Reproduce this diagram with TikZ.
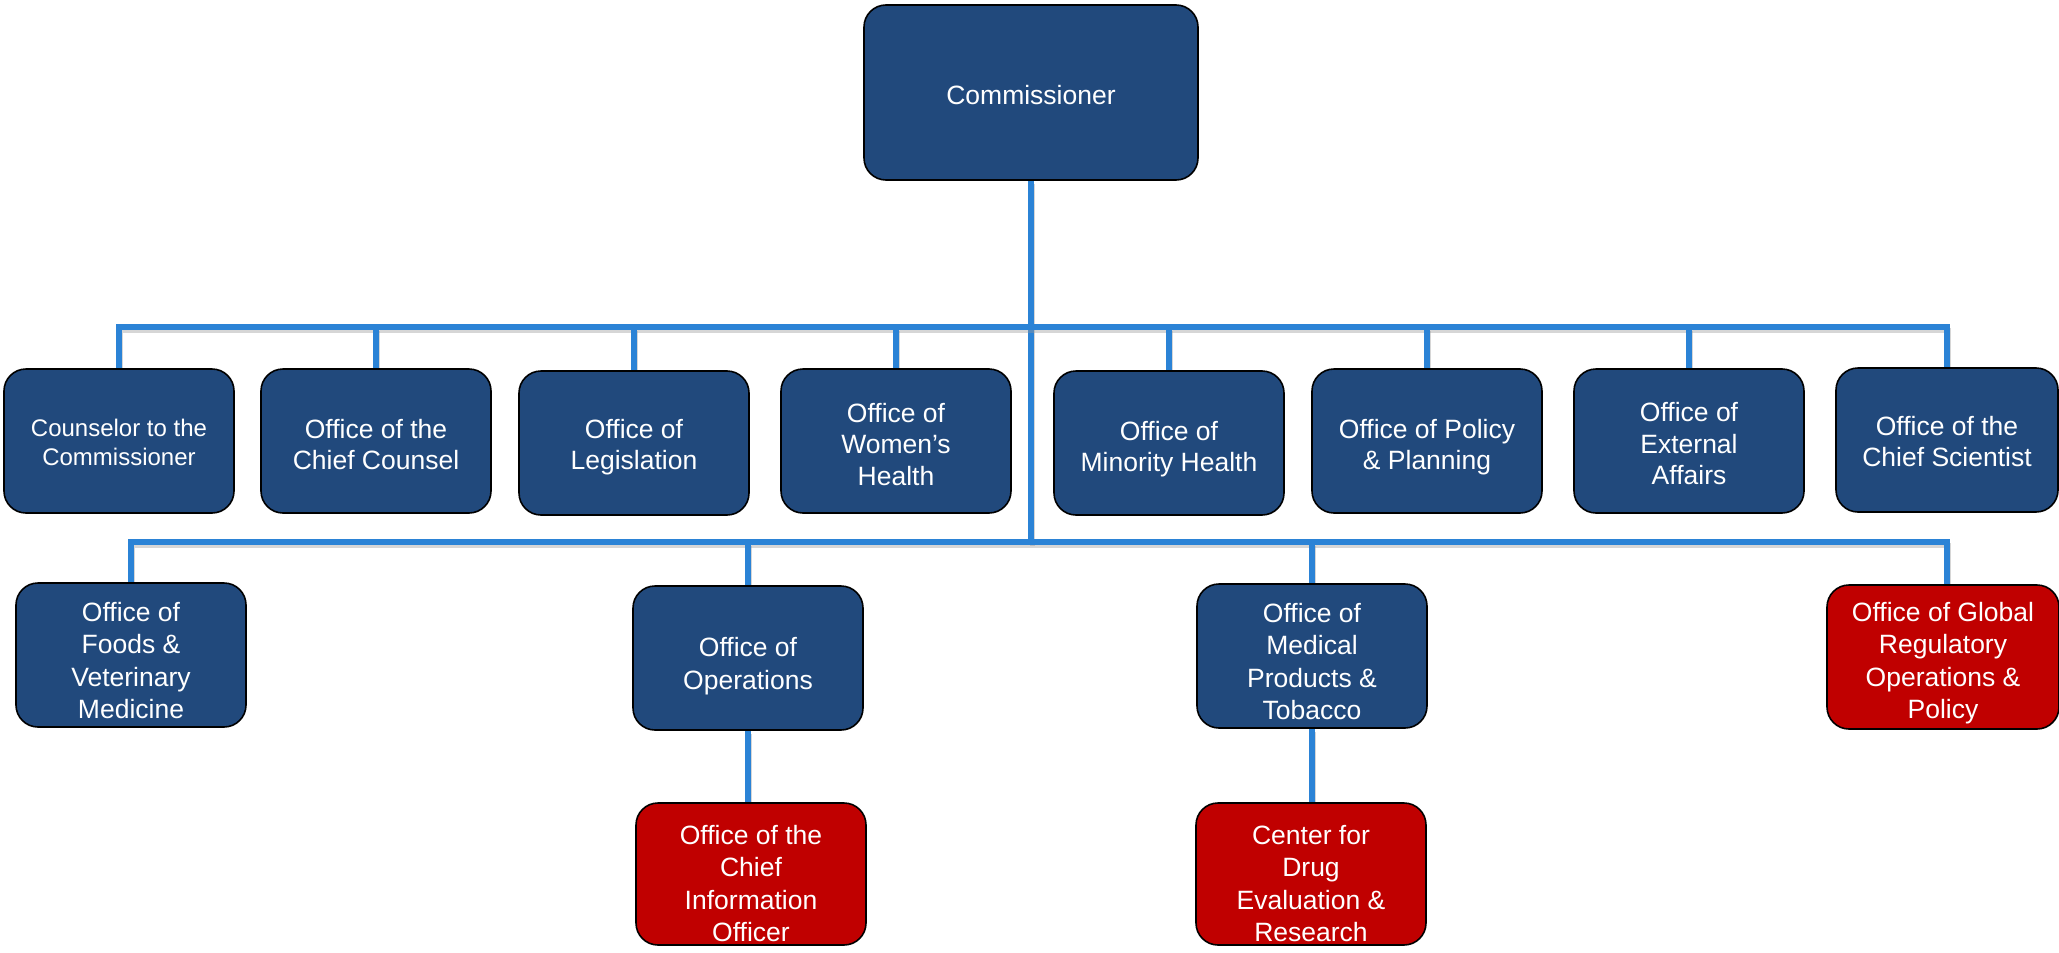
\documentclass[tikz,border=0pt]{standalone}
\usepackage{fontspec}
\setmainfont{Liberation Sans}
\usetikzlibrary{backgrounds}
\definecolor{boxblue}{RGB}{33,73,124}
\definecolor{boxred}{RGB}{192,0,0}
\definecolor{linkblue}{RGB}{43,131,214}
\newcommand{\tg}[1]{\rule{0pt}{#1pt}}
\tikzset{
  orgbox/.style={draw=black, line width=1.6pt, rounded corners=22pt, fill=boxblue,
    text=white, align=center, inner sep=0pt, minimum width=230pt, minimum height=144pt,
    font=\fontsize{26.5}{32.5}\selectfont},
  rowone/.style={orgbox, font=\fontsize{26.5}{31.5}\selectfont},
  redbox/.style={orgbox, fill=boxred},
  conn/.style={draw=linkblue, line width=5.2pt,
    preaction={draw=black!40, line width=5.4pt, opacity=.4, transform canvas={shift={(1.5pt,-3.5pt)}}}}
}
\begin{document}
\begin{tikzpicture}[x=1pt,y=-1pt]
\useasboundingbox (0,0) rectangle (2059,953);
% top
\node[orgbox, minimum width=334pt, minimum height=175pt] (comm) at (1031,92.5) {\tg{25}Commissioner};
% row 1
\node[orgbox, font=\fontsize{24}{29}\selectfont] (c1) at (119,441) {\tg{20}Counselor to the\\Commissioner};
\node[rowone] (c2) at (376,441) {\tg{26}Office of the\\Chief Counsel};
\node[rowone] (c3) at (634,443) {\tg{27.5}Office of\\Legislation};
\node[rowone] (c4) at (896,441) {\tg{26}Office of\\Women’s\\Health};
\node[rowone] (c5) at (1169,443) {\tg{31.5}Office of\\Minority Health};
\node[rowone] (c6) at (1427,441) {\tg{31}Office of Policy\\\& Planning};
\node[rowone] (c7) at (1689,441) {\tg{25}Office of\\External\\Affairs};
\node[rowone, minimum width=222pt] (c8) at (1947,440) {\tg{22}Office of the\\Chief Scientist};
% row 2
\node[orgbox] (r1) at (131,655) {\tg{30}Office of\\Foods \&\\Veterinary\\Medicine};
\node[orgbox] (r2) at (748,658) {\tg{35}Office of\\Operations};
\node[orgbox] (r3) at (1312,656) {\tg{30}Office of\\Medical\\Products \&\\Tobacco};
\node[redbox, minimum width=232pt] (r4) at (1943,657) {\tg{31}Office of Global\\Regulatory\\Operations \&\\Policy};
% row 3
\node[redbox, minimum height=142pt] (cio) at (751,874) {\tg{38}Office of the\\Chief\\Information\\Officer};
\node[redbox, minimum height=142pt] (cder) at (1311,874) {\tg{38}Center for\\Drug\\Evaluation \&\\Research};
% bus coordinates
\coordinate (b1) at (1031,327);
\coordinate (b2) at (1031,542);
\begin{scope}[on background layer]
  \draw[conn] (comm.south) -- (comm.south |- b2);
  \draw[conn] (c1.north) -- (c1.north |- b1) -- (c8.north |- b1) -- (c8.north);
  \foreach \n in {c2,c3,c4,c5,c6,c7}
    \draw[conn] (\n.north) -- (\n.north |- b1);
  \draw[conn] (r1.north) -- (r1.north |- b2) -- ([xshift=4pt]r4.north |- b2) -- ([xshift=4pt]r4.north);
  \draw[conn] (r2.north) -- (r2.north |- b2);
  \draw[conn] (r3.north) -- (r3.north |- b2);
  \draw[conn] (r2.south) -- (cio.north -| r2.south);
  \draw[conn] (r3.south) -- (cder.north -| r3.south);
\end{scope}
\end{tikzpicture}
\end{document}
